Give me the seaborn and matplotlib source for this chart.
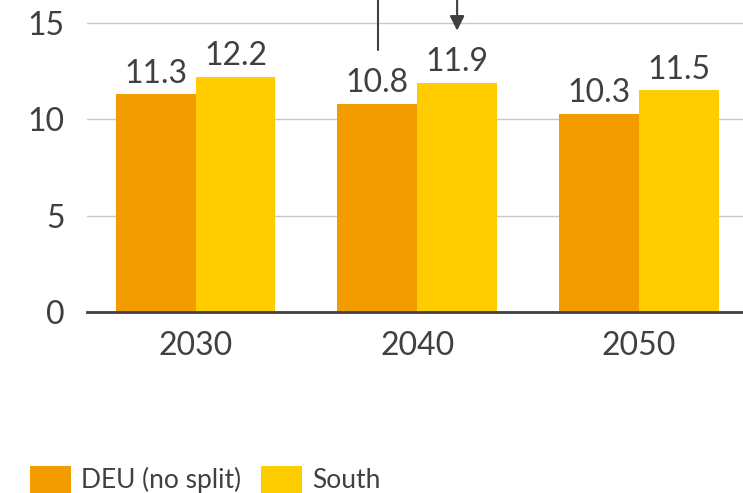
import pandas as pd
import matplotlib
matplotlib.use("Agg")
import matplotlib.pyplot as plt
import seaborn as sns

# Chart data
years = ["2030", "2040", "2050"]
series_names = ["DEU (no split)", "South"]
deu_values = [11.3, 10.8, 10.3]
south_values = [12.2, 11.9, 11.5]
y_ticks = [0, 5, 10, 15]

colors = {"DEU (no split)": "#F39C00", "South": "#FFCC00"}
text_color = "#404040"

df = pd.DataFrame({
    "year": years * 2,
    "series": [series_names[0]] * 3 + [series_names[1]] * 3,
    "value": deu_values + south_values,
})

sns.set_style("white")
plt.rcParams["font.family"] = ["Lato", "DejaVu Sans"]
plt.rcParams["text.color"] = text_color

fig = plt.figure(figsize=(7.43, 4.93), dpi=100)
ax = fig.add_axes([87 / 743, 181 / 493, 1 - 87 / 743, 1 - 181 / 493])

sns.barplot(data=df, x="year", y="value", hue="series", order=years,
            hue_order=series_names, palette=colors, width=0.72,
            saturation=1, ax=ax, legend=False, linewidth=0)

for cont in ax.containers:
    ax.bar_label(cont, fmt="%.1f", padding=4, fontsize=23, color=text_color)

ax.set_xlim(-0.49, 2.47)
ax.set_ylim(0, 16.19)
ax.set_yticks(y_ticks)
ax.yaxis.grid(True, color="#c8c8c8", linewidth=1)
ax.set_axisbelow(True)
for s in ["top", "right", "left"]:
    ax.spines[s].set_visible(False)
ax.spines["bottom"].set_color(text_color)
ax.spines["bottom"].set_linewidth(2)
ax.tick_params(axis="both", length=0, labelsize=23, colors=text_color)
ax.tick_params(axis="y", pad=16)
ax.tick_params(axis="x", pad=14)
ax.set_xlabel("")
ax.set_ylabel("")

# annotation fragments at the top
ax.plot([0.824, 0.824], [13.6, 16.19], color=text_color, linewidth=1.5, clip_on=False)
ax.annotate("", xy=(1.18, 14.6), xytext=(1.18, 16.3),
            arrowprops=dict(arrowstyle="-|>", color=text_color, lw=1.5,
                            mutation_scale=22, shrinkA=0, shrinkB=0),
            annotation_clip=False)

handles = [plt.Rectangle((0, 0), 1, 1, facecolor=colors[n], edgecolor="none")
           for n in series_names]
fig.legend(handles, series_names, loc="lower left", bbox_to_anchor=(0.04, 0.0),
           ncol=2, frameon=False, fontsize=19, handlelength=1.55,
           handleheight=1.2, handletextpad=0.4, columnspacing=0.75,
           borderaxespad=0, borderpad=0)

fig.savefig("out.png", dpi=100)
